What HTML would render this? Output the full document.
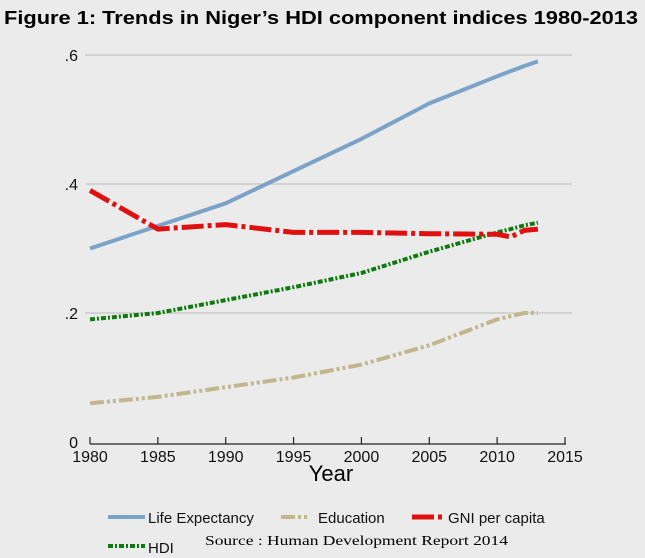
<!DOCTYPE html>
<html><head><meta charset="utf-8">
<style>
html,body{margin:0;padding:0;background:#ebebeb;}
svg{display:block;font-family:"Liberation Sans",sans-serif;}
</style></head>
<body>
<svg width="645" height="558" viewBox="0 0 645 558">
<rect x="0" y="0" width="645" height="558" fill="#ebebeb"/>
<text x="4" y="24" font-size="18" font-weight="bold" fill="#000" textLength="634" lengthAdjust="spacingAndGlyphs">Figure 1: Trends in Niger’s HDI component indices 1980-2013</text>
<g id="grid"></g>
<g id="axes"></g>
<g id="series"></g>
<text x="331" y="481" font-size="22" text-anchor="middle" fill="#000">Year</text>
<g>
 <g>
  <line x1="108" y1="517" x2="145" y2="517" stroke="#7ba3c8" stroke-width="4"/>
  <text x="148" y="523" font-size="15" fill="#111">Life Expectancy</text>
 </g>
 <g>
  <line x1="281" y1="517" x2="310" y2="517" stroke="#c2b68c" stroke-width="4" stroke-dasharray="14,3,3,3,3,3"/>
  <text x="318" y="523" font-size="15" fill="#111">Education</text>
 </g>
 <g>
  <line x1="412" y1="517" x2="445" y2="517" stroke="#e01010" stroke-width="5" stroke-dasharray="22,4,4,4"/>
  <text x="448" y="523" font-size="15" fill="#111">GNI per capita</text>
 </g>
 <g>
  <line x1="108" y1="546" x2="145" y2="546" stroke="#0c7a0c" stroke-width="4" stroke-dasharray="5,2,2,2"/>
  <text x="148" y="553" font-size="15" fill="#111">HDI</text>
 </g>
</g>
<text x="205" y="545" font-size="14" font-family="Liberation Serif,serif" fill="#000" textLength="303" lengthAdjust="spacingAndGlyphs">Source : Human Development Report 2014</text>
</svg>
<script>
const years = [1980,1985,1990,1995,2000,2005,2010,2011,2012,2013];
const lifeExp = [0.30,0.335,0.37,0.42,0.47,0.525,0.567,0.575,0.583,0.59];
const education = [0.06,0.07,0.085,0.10,0.12,0.15,0.19,0.195,0.20,0.20];
const gni = [0.39,0.33,0.337,0.325,0.325,0.323,0.322,0.318,0.328,0.33];
const hdi = [0.19,0.20,0.22,0.24,0.262,0.295,0.325,0.33,0.336,0.34];
const yTicks = [0,0.2,0.4,0.6];
const yTickLabels = ["0",".2",".4",".6"];
const xTicks = [1980,1985,1990,1995,2000,2005,2010,2015];

const NS="http://www.w3.org/2000/svg";
function xs(v){return 90+(v-1980)*(565-90)/35;}
function ys(v){return 442-v*(442-55)/0.6;}
function mk(tag,attrs,parent){const e=document.createElementNS(NS,tag);for(const k in attrs)e.setAttribute(k,attrs[k]);parent.appendChild(e);return e;}

const grid=document.getElementById('grid');
const axes=document.getElementById('axes');
yTicks.forEach((t,i)=>{
  if(t>0){const g=mk('line',{x1:85,x2:572,y1:ys(t),y2:ys(t),stroke:'#c4c4c4','stroke-width':1.2},grid);
  
  }
  const l=mk('text',{x:78,y:ys(t)+6,'font-size':16,'text-anchor':'end',fill:'#111'},axes);
  l.textContent=yTickLabels[i];
  
  
});
const ax=mk('line',{x1:90,x2:566,y1:444,y2:444,stroke:'#222','stroke-width':1.2},axes);


xTicks.forEach(t=>{
  const tk=mk('line',{x1:xs(t),x2:xs(t),y1:437,y2:444,stroke:'#222','stroke-width':1.2},axes);
  
  
  const l=mk('text',{x:xs(t),y:462,'font-size':16,'text-anchor':'middle',fill:'#111'},axes);
  l.textContent=t;
  
  
});
const ser=document.getElementById('series');
function line(vals,color,w,dash,name){
  const d=vals.map((v,i)=>(i?'L':'M')+xs(years[i]).toFixed(1)+','+ys(v).toFixed(1)).join(' ');
  const p=mk('path',{d:d,fill:'none',stroke:color,'stroke-width':w,'stroke-linejoin':'round'},ser);
  if(dash)p.setAttribute('stroke-dasharray',dash);
  
  
}
line(education,'#c2b68c',4,'14,3,3,3,3,3','education-line');
line(lifeExp,'#7ba3c8',4,null,'life-expectancy-line');
line(hdi,'#0c7a0c',4,'5,2,2,2','hdi-line');
line(gni,'#e01010',5,'22,4,4,4','gni-line');
</script>
</body></html>
